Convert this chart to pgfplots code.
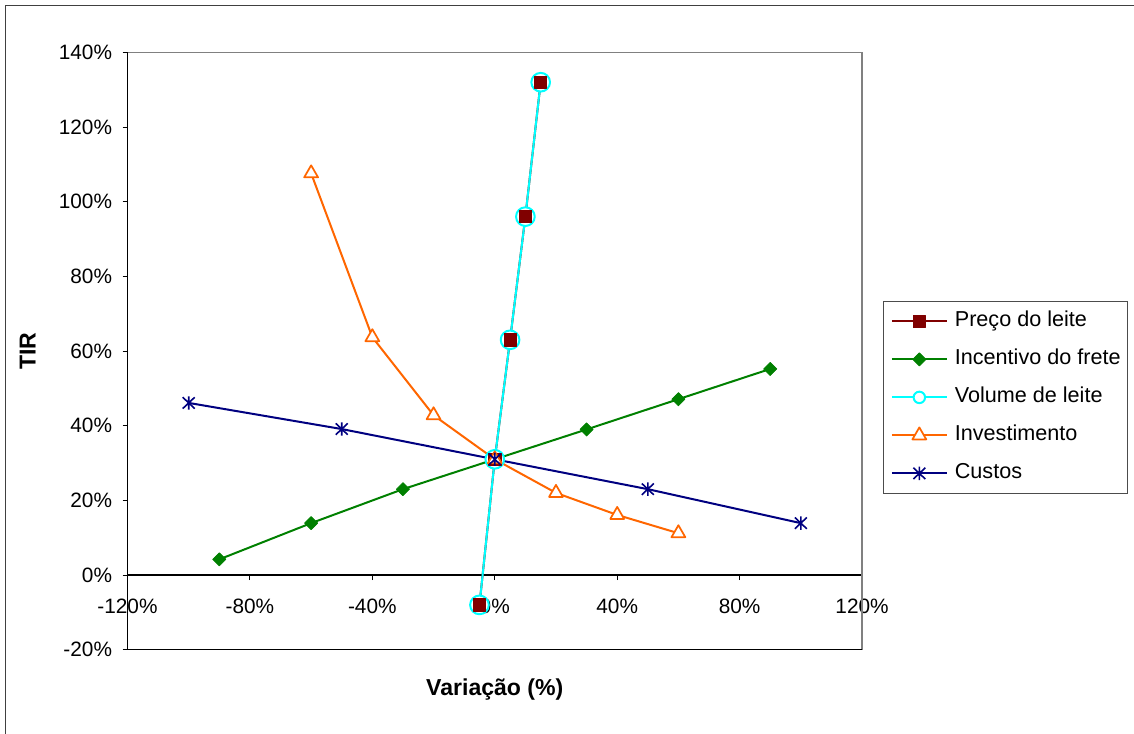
\documentclass[border=0pt]{standalone}
\usepackage{pgfplots}
\pgfplotsset{compat=1.18}
\usepackage{fontspec}
\setmainfont{Liberation Sans}
\definecolor{cPreco}{HTML}{800000}
\definecolor{cInc}{HTML}{008000}
\definecolor{cVol}{HTML}{00FFFF}
\definecolor{cInv}{HTML}{FF6600}
\definecolor{cCus}{HTML}{000080}
\definecolor{bord}{HTML}{808080}
\pgfdeclareplotmark{xstar}{%
  \pgfpathmoveto{\pgfqpoint{0pt}{-\pgfplotmarksize}}\pgfpathlineto{\pgfqpoint{0pt}{\pgfplotmarksize}}%
  \pgfpathmoveto{\pgfqpoint{-.9\pgfplotmarksize}{-.85\pgfplotmarksize}}\pgfpathlineto{\pgfqpoint{.9\pgfplotmarksize}{.85\pgfplotmarksize}}%
  \pgfpathmoveto{\pgfqpoint{-.9\pgfplotmarksize}{.85\pgfplotmarksize}}\pgfpathlineto{\pgfqpoint{.9\pgfplotmarksize}{-.85\pgfplotmarksize}}%
  \pgfusepathqstroke}
\pgfplotsset{
  stdlegend/.style={legend image code/.code={\draw[mark repeat=2,mark phase=2,##1] plot coordinates {(0pt,0pt) (20.6pt,0pt) (41.25pt,0pt)};}},
  vollegend/.style={legend image code/.code={\draw[mark repeat=2,mark phase=2,##1,mark size=4.3pt] plot coordinates {(0pt,0pt) (20.6pt,0pt) (41.25pt,0pt)};}},
}
\begin{document}
\begin{tikzpicture}
\begin{scope}[x=0.75pt,y=0.75pt]
\useasboundingbox (0,0) rectangle (1134,734);
\draw[line width=0.9pt, black!75] (5.5,0) -- (5.5,728.5) -- (1134,728.5);
\end{scope}
\begin{axis}[
  at={(95.625pt,63.225pt)}, anchor=south west,
  scale only axis, width=550.9pt, height=448pt,
  xmin=-120, xmax=120, ymin=-20, ymax=140,
  clip=false,
  axis x line*=middle, axis y line*=left,
  hide obscured x ticks=false, hide obscured y ticks=false,
  x axis line style={black, line width=0.8pt},
  y axis line style={black, line width=1.2pt},
  xtick={-120,-80,...,120},
  xticklabels={-120\%,-80\%,-40\%,0\%,40\%,80\%,120\%},
  ytick={-20,0,...,140},
  yticklabels={-20\%,0\%,20\%,40\%,60\%,80\%,100\%,120\%,140\%},
  tick align=outside, major tick length=3.75pt,
  tick style={black, line width=0.75pt},
  tick label style={font=\fontsize{15.6}{18}\selectfont},
  xticklabel style={anchor=north, yshift=-10.5pt},
  yticklabel style={anchor=east, xshift=-4.3pt},
  xlabel={Variação (\%)},
  ylabel={TIR},
  label style={font=\bfseries\fontsize{17.3}{20}\selectfont},
  xlabel style={at={(axis description cs:0.5,-0.067)}, anchor=center},
  ylabel style={at={(axis description cs:-0.136,0.5)}, anchor=center},
  legend style={at={(axis description cs:1.0286,0.5837)}, anchor=north west,
    draw=black!70, line width=0.75pt, fill=white,
    font=\fontsize{16.2}{18}\selectfont,
    inner xsep=5.5pt, inner ysep=7.4pt, column sep=5.25pt, row sep=13.5pt,
    nodes={inner sep=0pt, text height=11.5pt, text depth=3.5pt}},
  legend cell align=left,
  stdlegend,
  every axis plot/.append style={line width=1.5pt, line join=round},
]
\addplot[cPreco, mark=square*, mark size=4.6pt, mark options={fill=cPreco, draw=cPreco, line width=0.5pt}]
  coordinates {(-5,-8) (0,31) (5,63) (10,96) (15,132)};
\addlegendentry{Preço do leite}
\addplot[cInc, mark=square*, mark size=3.5pt, mark options={rotate=45, fill=cInc, draw=cInc, line width=0.5pt}]
  coordinates {(-90,4.2) (-60,13.9) (-30,23) (0,31) (30,39) (60,47.1) (90,55.2)};
\addlegendentry{Incentivo do frete}
\addplot[cVol, mark=*, mark size=7pt, mark options={fill=white, draw=cVol, line width=1.5pt}, vollegend]
  coordinates {(-5,-8) (0,31) (5,63) (10,96) (15,132)};
\addlegendentry{Volume de leite}
\addplot[only marks, forget plot, mark=square*, mark size=4.6pt, mark options={fill=cPreco, draw=cPreco, line width=0.5pt}]
  coordinates {(-5,-8) (0,31) (5,63) (10,96) (15,132)};
\addplot[cInv, mark=triangle*, mark size=6pt, mark options={fill=white, draw=cInv, line width=1.3pt}]
  coordinates {(-60,107.6) (-40,63.7) (-20,42.8) (0,31) (20,22) (40,16.1) (60,11.2)};
\addlegendentry{Investimento}
\addplot[cCus, mark=xstar, mark size=5pt, mark options={draw=cCus, line width=1.2pt}]
  coordinates {(-100,46.1) (-50,39.1) (0,31) (50,23) (100,13.9)};
\addlegendentry{Custos}
\draw[bord, line width=1.2pt] (rel axis cs:0,1) -- (rel axis cs:1,1) -- (rel axis cs:1,0);
\draw[black, line width=1pt] (rel axis cs:0,0) -- (rel axis cs:1,0);
\end{axis}
\end{tikzpicture}
\end{document}
